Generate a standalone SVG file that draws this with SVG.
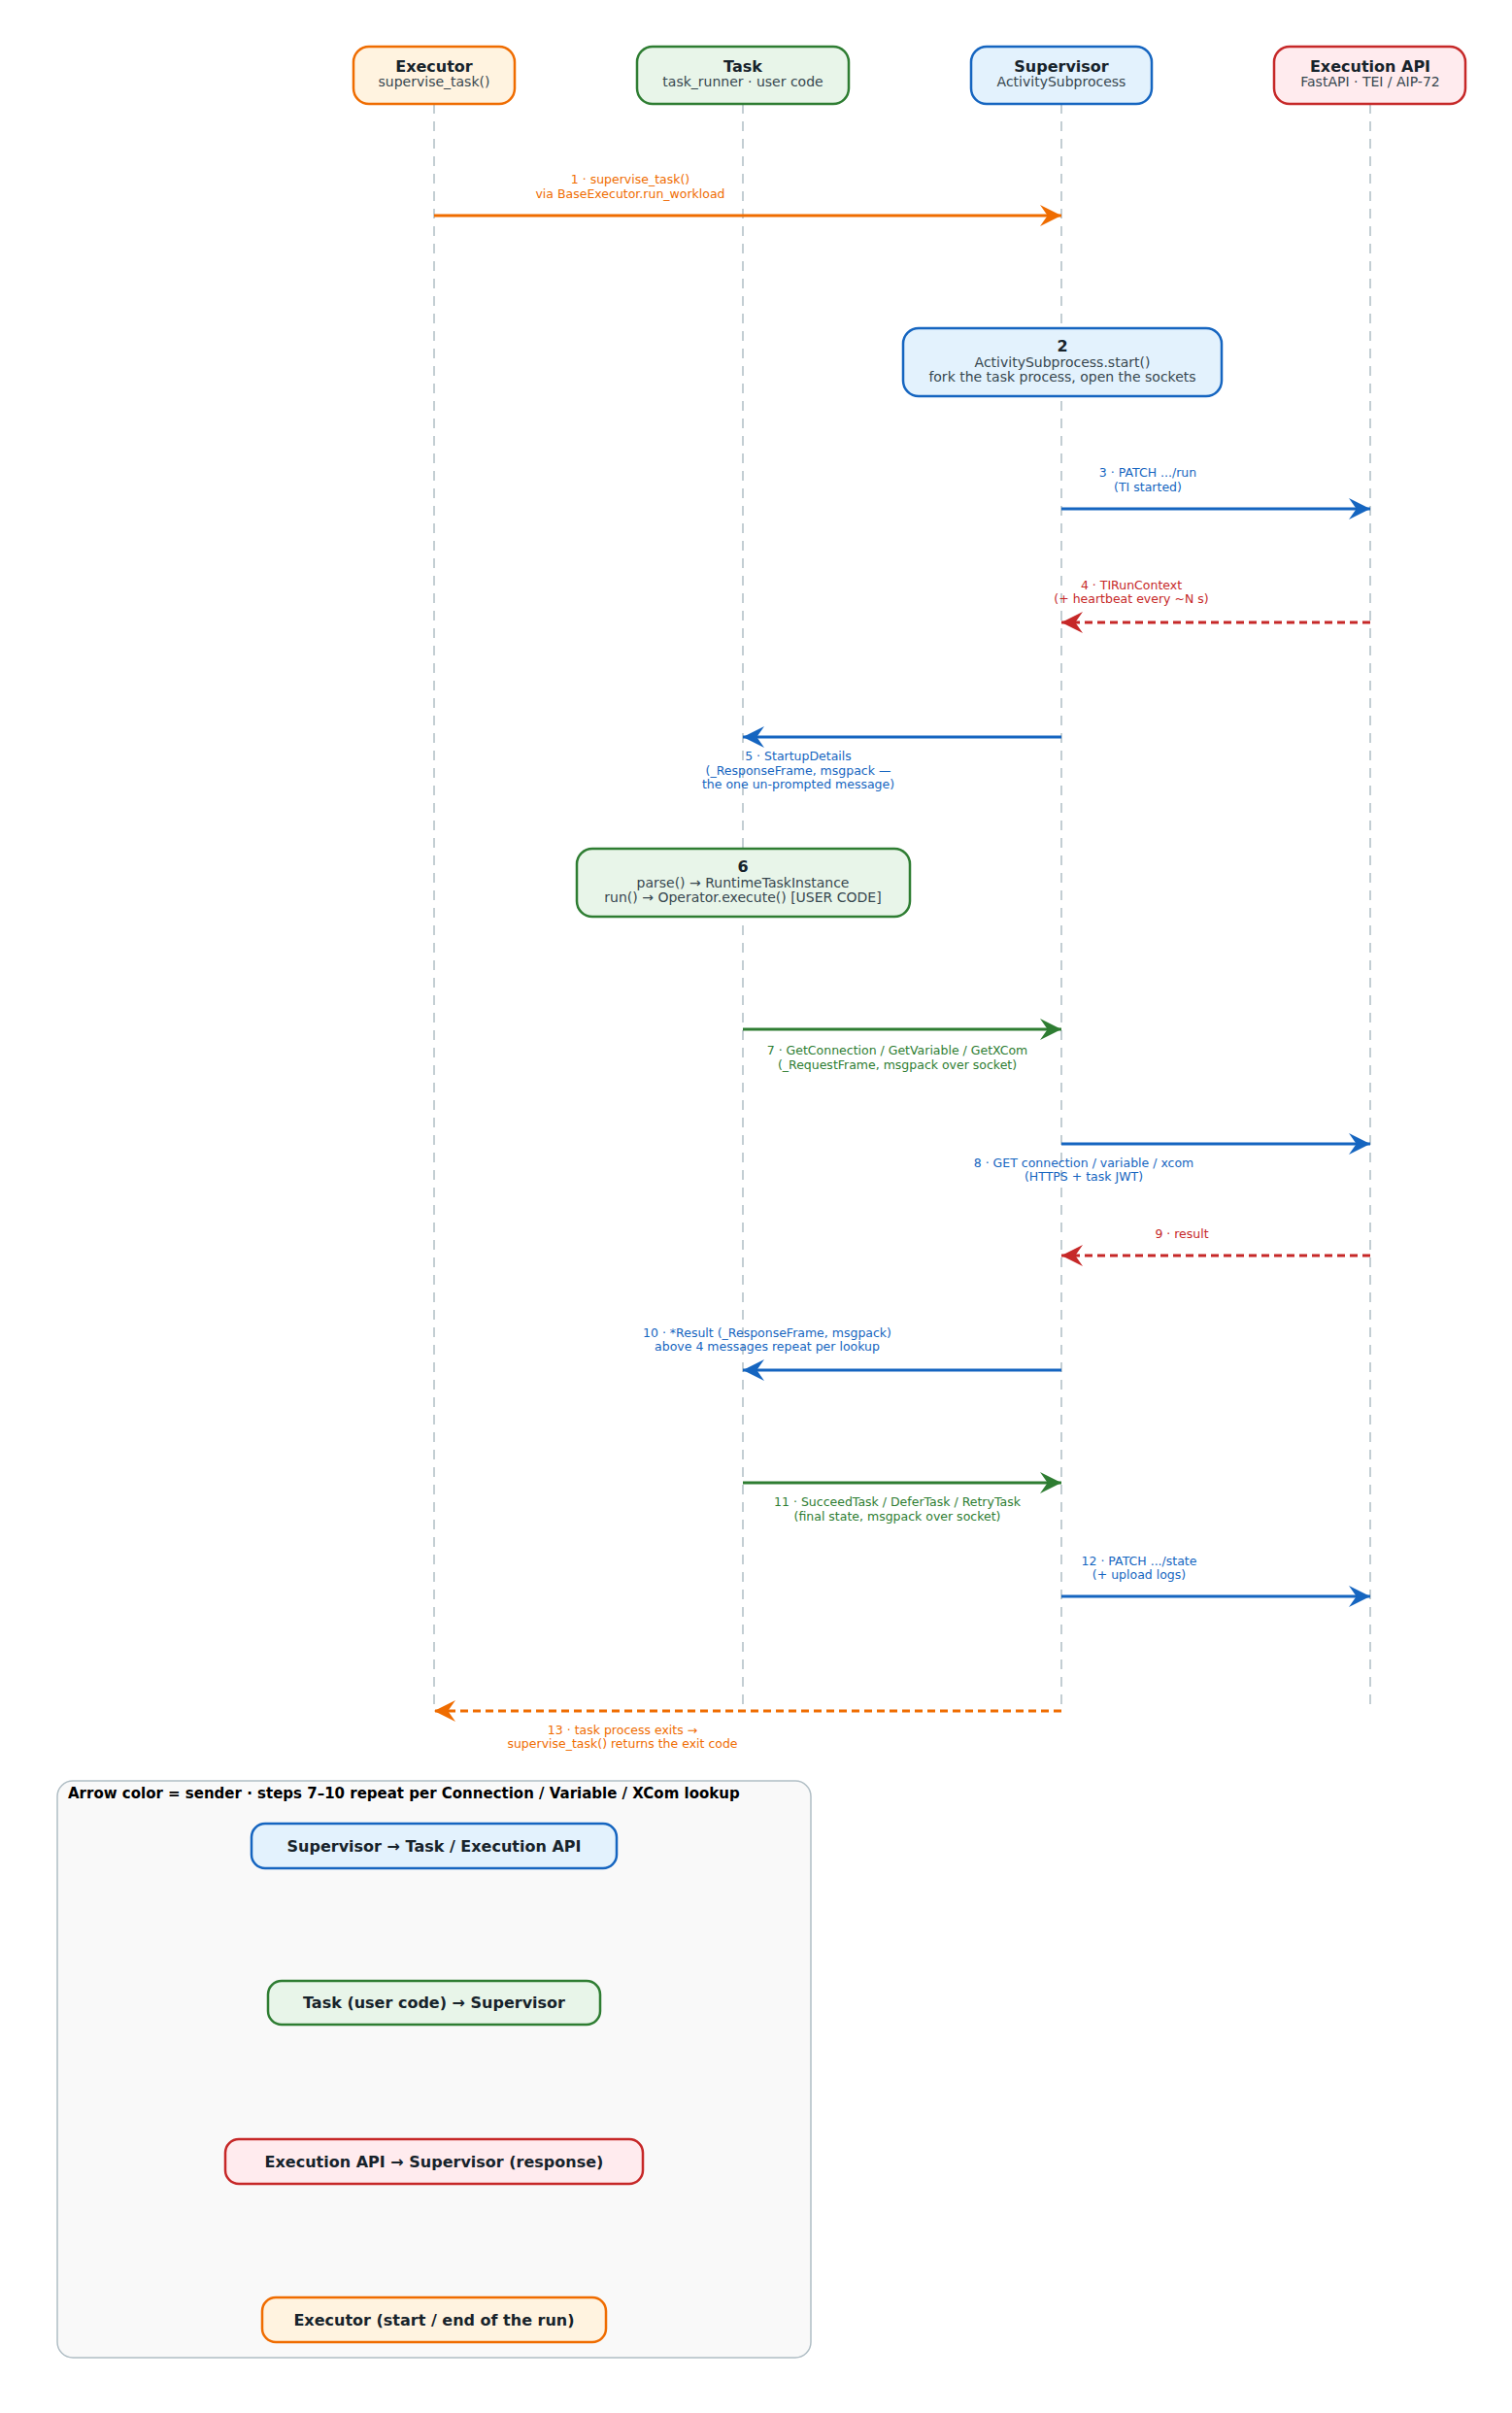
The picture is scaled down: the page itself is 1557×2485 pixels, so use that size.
<svg xmlns="http://www.w3.org/2000/svg" width="1557" height="2485" viewBox="0 0 1557 2485">
<style>
text{font-family:"DejaVu Sans",sans-serif;text-anchor:middle}
.t{font-size:16px;font-weight:bold;fill:#17232b}
.s{font-size:14px;fill:#37474f}
.l{font-size:12.5px}
.life{stroke:#b0bec5;stroke-width:1.5;stroke-dasharray:10,8;fill:none}
.o{stroke:#ef6c00}.g{stroke:#2e7d32}.b{stroke:#1565c0}.r{stroke:#c62828}
.a{stroke-width:3;fill:none}
.d{stroke-dasharray:8,5}
.lo{fill:#ef6c00}.lg{fill:#2e7d32}.lb{fill:#1565c0}.lr{fill:#c62828}
.leg{font-size:16px;font-weight:bold;fill:#17232b}
</style>
<defs>
<marker id="mo" viewBox="0 0 20 20" refX="20" refY="10" markerWidth="22" markerHeight="22" markerUnits="userSpaceOnUse" orient="auto"><path d="M0,0 L20,10 L0,20 L7,10 z" fill="#ef6c00"/></marker>
<marker id="mg" viewBox="0 0 20 20" refX="20" refY="10" markerWidth="22" markerHeight="22" markerUnits="userSpaceOnUse" orient="auto"><path d="M0,0 L20,10 L0,20 L7,10 z" fill="#2e7d32"/></marker>
<marker id="mb" viewBox="0 0 20 20" refX="20" refY="10" markerWidth="22" markerHeight="22" markerUnits="userSpaceOnUse" orient="auto"><path d="M0,0 L20,10 L0,20 L7,10 z" fill="#1565c0"/></marker>
<marker id="mr" viewBox="0 0 20 20" refX="20" refY="10" markerWidth="22" markerHeight="22" markerUnits="userSpaceOnUse" orient="auto"><path d="M0,0 L20,10 L0,20 L7,10 z" fill="#c62828"/></marker>
</defs>
<rect width="1557" height="2485" fill="#fff"/>
<g id="lifelines">
<line class="life" x1="447" y1="107" x2="447" y2="1762"/>
<line class="life" x1="765" y1="107" x2="765" y2="1762"/>
<line class="life" x1="1093" y1="107" x2="1093" y2="1762"/>
<line class="life" x1="1411" y1="107" x2="1411" y2="1762"/>
</g>
<g id="executor"><rect x="364" y="48" width="166" height="59" rx="16" fill="#fff3e0" stroke="#ef6c00" stroke-width="2.5"/><text class="t" x="447" y="74">Executor</text><text class="s" x="447" y="89">supervise_task()</text></g>
<g id="task"><rect x="656" y="48" width="218" height="59" rx="16" fill="#e8f5e9" stroke="#2e7d32" stroke-width="2.5"/><text class="t" x="765" y="74">Task</text><text class="s" x="765" y="89">task_runner · user code</text></g>
<g id="supervisor"><rect x="1000" y="48" width="186" height="59" rx="16" fill="#e3f2fd" stroke="#1565c0" stroke-width="2.5"/><text class="t" x="1093" y="74">Supervisor</text><text class="s" x="1093" y="89">ActivitySubprocess</text></g>
<g id="api"><rect x="1312" y="48" width="197" height="59" rx="16" fill="#ffebee" stroke="#c62828" stroke-width="2.5"/><text class="t" x="1411" y="74">Execution API</text><text class="s" x="1411" y="89">FastAPI · TEI / AIP-72</text></g>
<g id="step2"><rect x="930" y="338" width="328" height="70" rx="16" fill="#e3f2fd" stroke="#1565c0" stroke-width="2.5"/><text class="t" x="1094" y="362">2</text><text class="s" x="1094" y="378">ActivitySubprocess.start()</text><text class="s" x="1094" y="393">fork the task process, open the sockets</text></g>
<g id="step6"><rect x="594" y="874" width="343" height="70" rx="16" fill="#e8f5e9" stroke="#2e7d32" stroke-width="2.5"/><text class="t" x="765" y="898">6</text><text class="s" x="765" y="914">parse() → RuntimeTaskInstance</text><text class="s" x="765" y="929">run() → Operator.execute()  [USER CODE]</text></g>
<g id="connectors">
<line class="a o" x1="447" y1="222" x2="1093" y2="222" marker-end="url(#mo)"/>
<text class="l lo" x="649" y="189">1 · supervise_task()</text><text class="l lo" x="649" y="204">via BaseExecutor.run_workload</text>
<line class="a b" x1="1093" y1="524" x2="1411" y2="524" marker-end="url(#mb)"/>
<text class="l lb" x="1182" y="491">3 · PATCH .../run</text><text class="l lb" x="1182" y="506">(TI started)</text>
<line class="a r d" x1="1411" y1="641" x2="1093" y2="641" marker-end="url(#mr)"/>
<text class="l lr" x="1165" y="607">4 · TIRunContext</text><text class="l lr" x="1165" y="621">(+ heartbeat every ~N s)</text>
<line class="a b" x1="1093" y1="759" x2="765" y2="759" marker-end="url(#mb)"/>
<text class="l lb" x="822" y="783">5 · StartupDetails</text><text class="l lb" x="822" y="798">(_ResponseFrame, msgpack —</text><text class="l lb" x="822" y="812">the one un-prompted message)</text>
<line class="a g" x1="765" y1="1060" x2="1093" y2="1060" marker-end="url(#mg)"/>
<text class="l lg" x="924" y="1086">7 · GetConnection / GetVariable / GetXCom</text><text class="l lg" x="924" y="1101">(_RequestFrame, msgpack over socket)</text>
<line class="a b" x1="1093" y1="1178" x2="1411" y2="1178" marker-end="url(#mb)"/>
<text class="l lb" x="1116" y="1202">8 · GET connection / variable / xcom</text><text class="l lb" x="1116" y="1216">(HTTPS + task JWT)</text>
<line class="a r d" x1="1411" y1="1293" x2="1093" y2="1293" marker-end="url(#mr)"/>
<text class="l lr" x="1217" y="1275">9 · result</text>
<line class="a b" x1="1093" y1="1411" x2="765" y2="1411" marker-end="url(#mb)"/>
<text class="l lb" x="790" y="1377">10 · *Result (_ResponseFrame, msgpack)</text><text class="l lb" x="790" y="1391">above 4 messages repeat per lookup</text>
<line class="a g" x1="765" y1="1527" x2="1093" y2="1527" marker-end="url(#mg)"/>
<text class="l lg" x="924" y="1551">11 · SucceedTask / DeferTask / RetryTask</text><text class="l lg" x="924" y="1566">(final state, msgpack over socket)</text>
<line class="a b" x1="1093" y1="1644" x2="1411" y2="1644" marker-end="url(#mb)"/>
<text class="l lb" x="1173" y="1612">12 · PATCH .../state</text><text class="l lb" x="1173" y="1626">(+ upload logs)</text>
<line class="a o d" x1="1093" y1="1762" x2="447" y2="1762" marker-end="url(#mo)"/>
<text class="l lo" x="641" y="1786">13 · task process exits →</text><text class="l lo" x="641" y="1800">supervise_task() returns the exit code</text>
</g>
<g id="legend">
<rect x="59" y="1834" width="776" height="594" rx="16" fill="#f9f9f9" stroke="#b0bec5" stroke-width="1.5"/>
<text x="70" y="1852" style="text-anchor:start;font-size:15px;font-weight:bold;fill:#000">Arrow color = sender  ·  steps 7–10 repeat per Connection / Variable / XCom lookup</text>
<g id="leg-sup"><rect x="259" y="1878" width="376" height="46" rx="14" fill="#e3f2fd" stroke="#1565c0" stroke-width="2.5"/><text class="leg" x="447" y="1907">Supervisor  →  Task / Execution API</text></g>
<g id="leg-task"><rect x="276" y="2040" width="342" height="45" rx="14" fill="#e8f5e9" stroke="#2e7d32" stroke-width="2.5"/><text class="leg" x="447" y="2068">Task (user code)  →  Supervisor</text></g>
<g id="leg-api"><rect x="232" y="2203" width="430" height="46" rx="14" fill="#ffebee" stroke="#c62828" stroke-width="2.5"/><text class="leg" x="447" y="2232">Execution API  →  Supervisor  (response)</text></g>
<g id="leg-exec"><rect x="270" y="2366" width="354" height="46" rx="14" fill="#fff3e0" stroke="#ef6c00" stroke-width="2.5"/><text class="leg" x="447" y="2395">Executor  (start / end of the run)</text></g>
</g>
</svg>
